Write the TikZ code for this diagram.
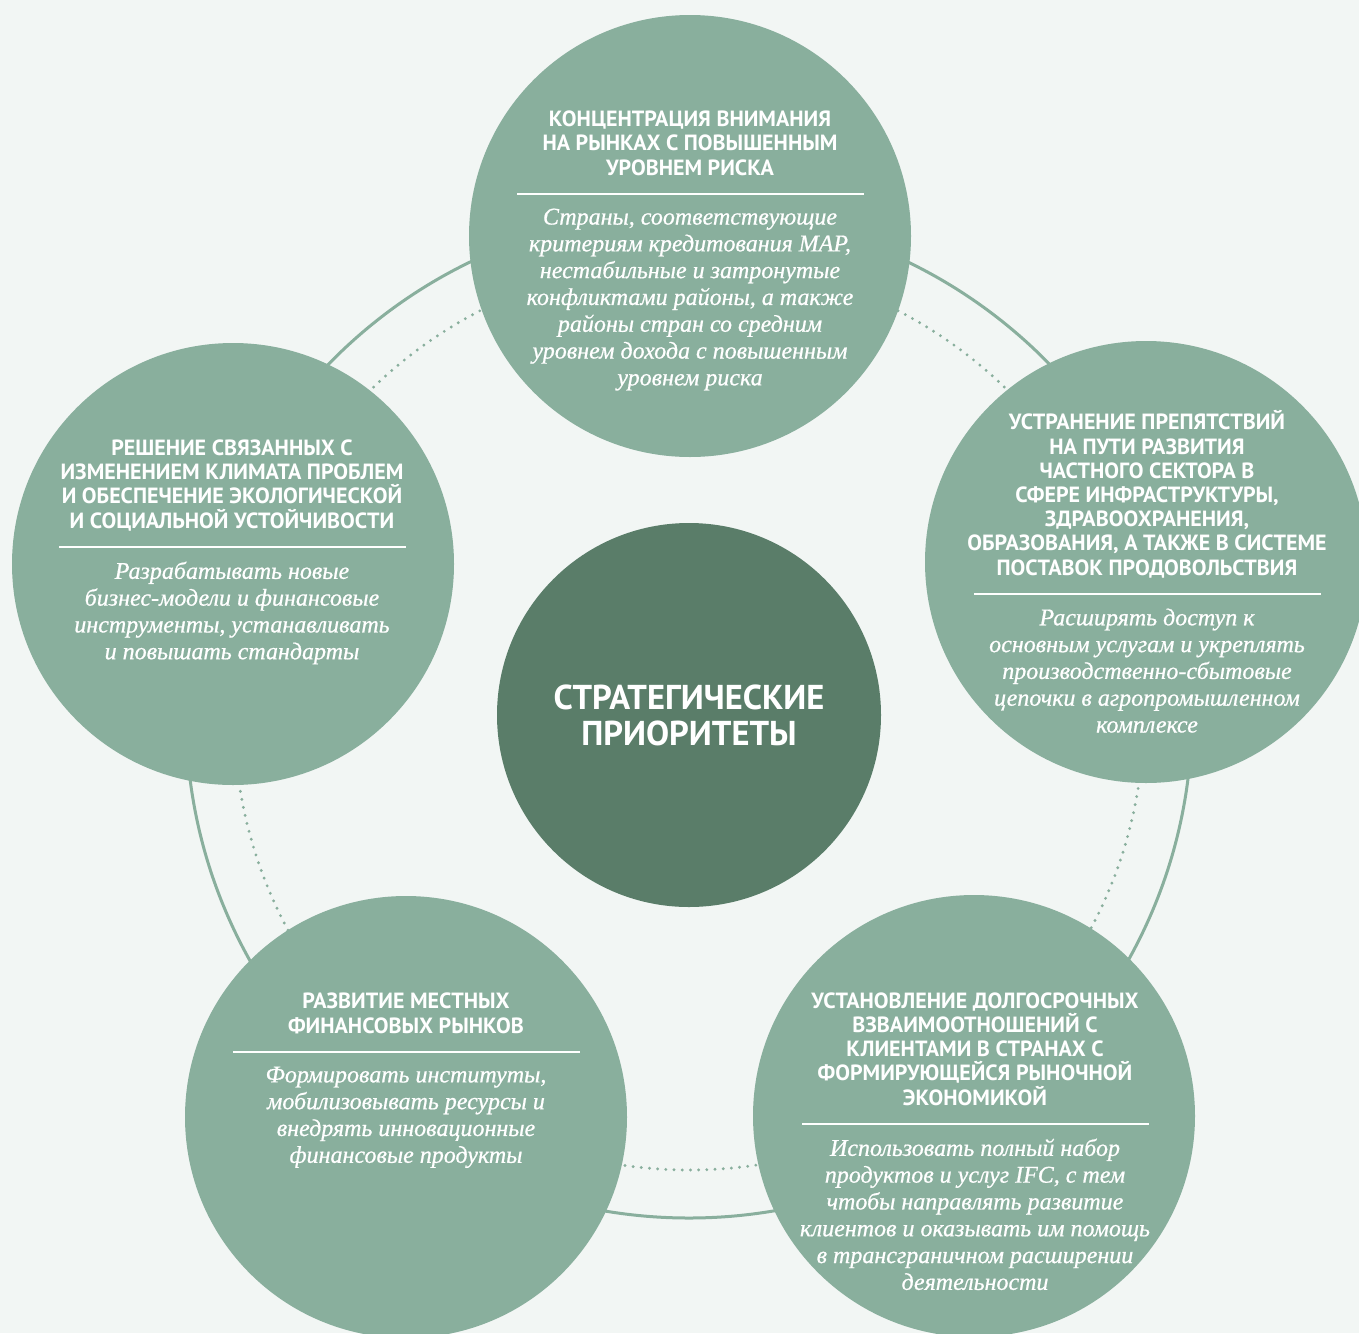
\documentclass[tikz,border=0pt]{standalone}
\usepackage{fontspec}
\setsansfont{PT Sans}
\newfontfamily\blurbfont[FakeBold=0.7]{Liberation Serif}
\usetikzlibrary{positioning}

\definecolor{paper}{HTML}{F2F6F4}
\definecolor{sage}{HTML}{89AF9D}
\definecolor{pine}{HTML}{5A7D69}

\tikzset{
  outer/.style={circle, fill=sage, minimum size=442pt, inner sep=0pt},
  core/.style={circle, fill=pine, minimum size=384pt, inner sep=0pt, text=white, align=center,
    font=\sffamily\bfseries\fontsize{34.5}{36}\selectfont},
  divider/.style={fill=white, minimum width=347pt, minimum height=2.5pt, inner sep=0pt},
  head/.style={text=white, align=center, inner sep=0pt,
    font=\sffamily\bfseries\fontsize{22}{24.2}\selectfont, execute at end node=\strut},
  blurb/.style={text=white, align=center, inner sep=0pt,
    font=\blurbfont\itshape\fontsize{24}{26.8}\selectfont, execute at begin node=\strut},
  ring/.style={sage, line width=3pt},
  dotring/.style={sage, line width=3.2pt, line cap=round, dash pattern=on 0pt off 8.2pt},
}

\begin{document}
\begin{tikzpicture}[x=1pt,y=-1pt]
  \fill[paper] (0,0) rectangle (1359,1333);
  \useasboundingbox (0,0) rectangle (1359,1333);

  \node[core] (hub) at (689,715) {СТРАТЕГИЧЕСКИЕ\\ПРИОРИТЕТЫ};
  \draw[ring] (hub.center) circle[radius=503];
  \draw[dotring] (hub.center) circle[radius=455];

  % five priorities round the hub
  \node[outer] (risk) at (690,236) {};
  \node[outer] (climate) at (233,564) {};
  \node[outer] (infra) at (1146,562) {};
  \node[outer] (local) at (406,1117) {};
  \node[outer] (clients) at (974,1116) {};

  \node[divider] (riskline) at (690,194) {};
  \node[divider] (climateline) at (232,547) {};
  \node[divider] (infraline) at (1147,594) {};
  \node[divider] (localline) at (406,1052) {};
  \node[divider] (clientsline) at (975,1124) {};

  \node[head, above=10pt of riskline] (riskhead) {КОНЦЕНТРАЦИЯ ВНИМАНИЯ\\НА РЫНКАХ С ПОВЫШЕННЫМ\\УРОВНЕМ РИСКА};
  \node[blurb, below=13pt of riskline] (risktext) {Страны, соответствующие\\критериям кредитования MAP,\\нестабильные и затронутые\\конфликтами районы, а также\\районы стран со средним\\уровнем дохода с повышенным\\уровнем риска};

  \node[head, above=10pt of climateline] (climatehead) {РЕШЕНИЕ СВЯЗАННЫХ С\\ИЗМЕНЕНИЕМ КЛИМАТА ПРОБЛЕМ\\И ОБЕСПЕЧЕНИЕ ЭКОЛОГИЧЕСКОЙ\\И СОЦИАЛЬНОЙ УСТОЙЧИВОСТИ};
  \node[blurb, below=13pt of climateline] (climatetext) {Разрабатывать новые\\бизнес-модели и финансовые\\инструменты, устанавливать\\и повышать стандарты};

  \node[head, above=10pt of infraline] (infrahead) {УСТРАНЕНИЕ ПРЕПЯТСТВИЙ\\НА ПУТИ РАЗВИТИЯ\\ЧАСТНОГО СЕКТОРА В\\СФЕРЕ ИНФРАСТРУКТУРЫ,\\ЗДРАВООХРАНЕНИЯ,\\ОБРАЗОВАНИЯ, А ТАКЖЕ В СИСТЕМЕ\\ПОСТАВОК ПРОДОВОЛЬСТВИЯ};
  \node[blurb, below=13pt of infraline] (infratext) {Расширять доступ к\\основным услугам и укреплять\\производственно-сбытовые\\цепочки в агропромышленном\\комплексе};

  \node[head, above=10pt of localline] (localhead) {РАЗВИТИЕ МЕСТНЫХ\\ФИНАНСОВЫХ РЫНКОВ};
  \node[blurb, below=13pt of localline] (localtext) {Формировать институты,\\мобилизовывать ресурсы и\\внедрять инновационные\\финансовые продукты};

  \node[head, above=10pt of clientsline] (clientshead) {УСТАНОВЛЕНИЕ ДОЛГОСРОЧНЫХ\\ВЗВАИМООТНОШЕНИЙ С\\КЛИЕНТАМИ В СТРАНАХ С\\ФОРМИРУЮЩЕЙСЯ РЫНОЧНОЙ\\ЭКОНОМИКОЙ};
  \node[blurb, below=13pt of clientsline] (clientstext) {Использовать полный набор\\продуктов и услуг IFC, с тем\\чтобы направлять развитие\\клиентов и оказывать им помощь\\в трансграничном расширении\\деятельности};
\end{tikzpicture}
\end{document}
